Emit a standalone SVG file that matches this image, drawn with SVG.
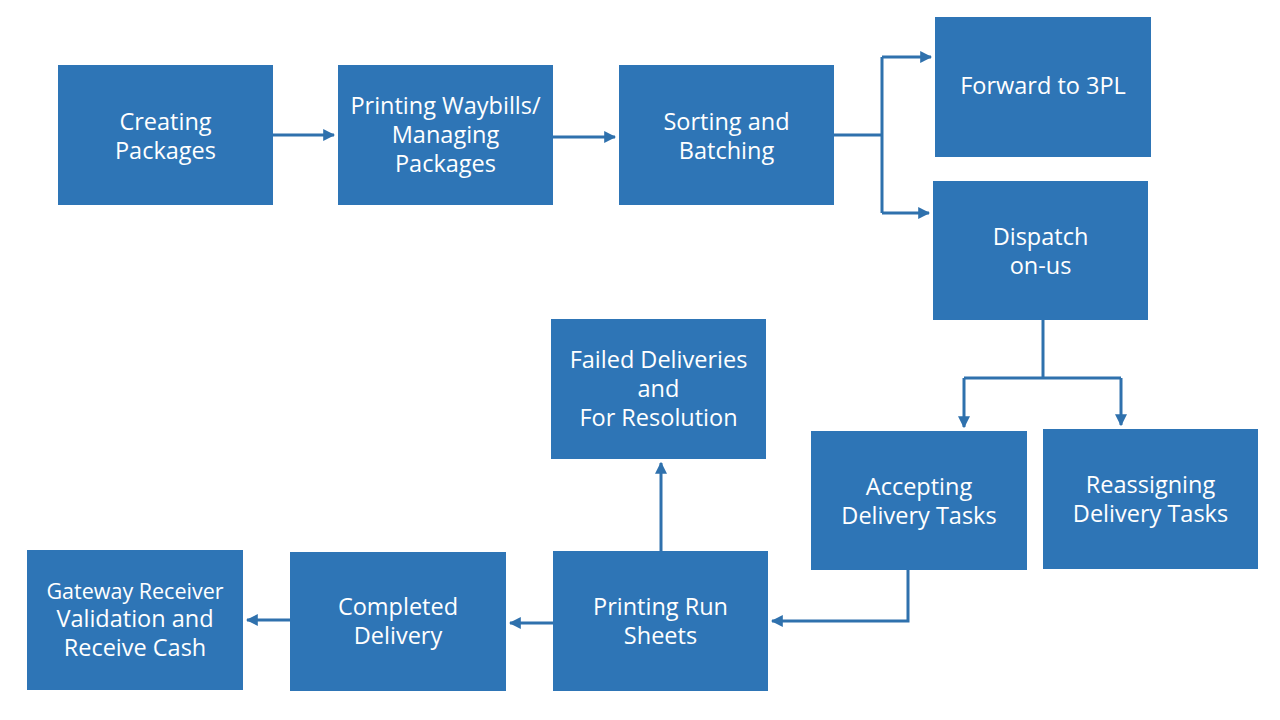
<svg xmlns="http://www.w3.org/2000/svg" width="1280" height="720" viewBox="0 0 1280 720">
<defs>
<marker id="ah" viewBox="0 0 10 10" refX="9" refY="5" markerWidth="4" markerHeight="4" orient="auto" markerUnits="strokeWidth">
<path d="M0,0 L10,5 L0,10 z" fill="#2F71AD"/>
</marker>
<style>
.box{fill:#2E75B6;}
.t{font-family:"Open Sans","Noto Sans",sans-serif;font-size:23.5px;fill:#FFFFFF;text-anchor:middle;}
.c{fill:none;stroke:#2F71AD;stroke-width:3;}
</style>
</defs>
<rect width="1280" height="720" fill="#FFFFFF"/>
<g id="connectors">
<path class="c" d="M273,135 H334" marker-end="url(#ah)"/>
<path class="c" d="M553,137 H615" marker-end="url(#ah)"/>
<path class="c" d="M834,135 H882"/>
<path class="c" d="M882,57 V213"/>
<path class="c" d="M882,57 H931" marker-end="url(#ah)"/>
<path class="c" d="M882,213 H929" marker-end="url(#ah)"/>
<path class="c" d="M1043,320 V378"/>
<path class="c" d="M964,378 H1121"/>
<path class="c" d="M964,378 V427" marker-end="url(#ah)"/>
<path class="c" d="M1121,378 V425" marker-end="url(#ah)"/>
<path class="c" d="M908,570 V621 H772" marker-end="url(#ah)"/>
<path class="c" d="M661,551 V463" marker-end="url(#ah)"/>
<path class="c" d="M553,623 H510" marker-end="url(#ah)"/>
<path class="c" d="M290,620 H247" marker-end="url(#ah)"/>
</g>
<g id="creating-packages">
<rect class="box" x="58" y="65" width="215" height="140"/>
<text class="t" x="165.5" y="130">Creating</text>
<text class="t" x="165.5" y="159">Packages</text>
</g>
<g id="printing-waybills">
<rect class="box" x="338" y="65" width="215" height="140"/>
<text class="t" x="445.5" y="114">Printing Waybills/</text>
<text class="t" x="445.5" y="143">Managing</text>
<text class="t" x="445.5" y="172">Packages</text>
</g>
<g id="sorting-batching">
<rect class="box" x="619" y="65" width="215" height="140"/>
<text class="t" x="726.5" y="130">Sorting and</text>
<text class="t" x="726.5" y="159">Batching</text>
</g>
<g id="forward-3pl">
<rect class="box" x="935" y="17" width="216" height="140"/>
<text class="t" x="1043" y="94">Forward to 3PL</text>
</g>
<g id="dispatch-on-us">
<rect class="box" x="933" y="181" width="215" height="139"/>
<text class="t" x="1040.5" y="245">Dispatch</text>
<text class="t" x="1040.5" y="274">on-us</text>
</g>
<g id="accepting-delivery-tasks">
<rect class="box" x="811" y="431" width="216" height="139"/>
<text class="t" x="919" y="495">Accepting</text>
<text class="t" x="919" y="524">Delivery Tasks</text>
</g>
<g id="reassigning-delivery-tasks">
<rect class="box" x="1043" y="429" width="215" height="140"/>
<text class="t" x="1150.5" y="493">Reassigning</text>
<text class="t" x="1150.5" y="522">Delivery Tasks</text>
</g>
<g id="failed-deliveries">
<rect class="box" x="551" y="319" width="215" height="140"/>
<text class="t" x="658.5" y="368">Failed Deliveries</text>
<text class="t" x="658.5" y="397">and</text>
<text class="t" x="658.5" y="426">For Resolution</text>
</g>
<g id="printing-run-sheets">
<rect class="box" x="553" y="551" width="215" height="140"/>
<text class="t" x="660.5" y="615">Printing Run</text>
<text class="t" x="660.5" y="644">Sheets</text>
</g>
<g id="completed-delivery">
<rect class="box" x="290" y="552" width="216" height="139"/>
<text class="t" x="398" y="615">Completed</text>
<text class="t" x="398" y="644">Delivery</text>
</g>
<g id="gateway-receiver">
<rect class="box" x="27" y="550" width="216" height="140"/>
<text class="t" x="135" y="599" style="font-size:21.5px">Gateway Receiver</text>
<text class="t" x="135" y="627">Validation and</text>
<text class="t" x="135" y="656">Receive Cash</text>
</g>
</svg>
